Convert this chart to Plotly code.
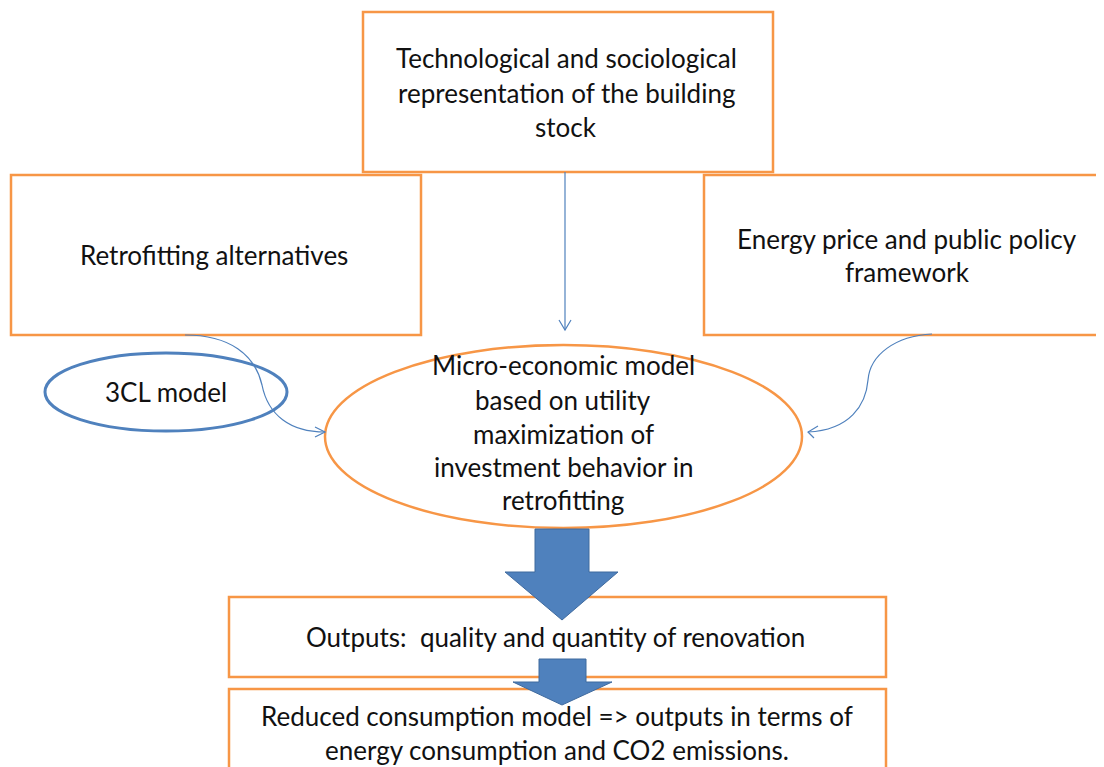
import plotly.graph_objects as go

# ---- diagram content ----
top_lines = ["Technological and sociological", "representation of the building", "stock"]
left_lines = ["Retrofitting alternatives"]
right_lines = ["Energy price and public policy", "framework"]
center_lines = ["Micro-economic model", "based on utility", "maximization of",
                "investment behavior in", "retrofitting"]
small_ellipse_lines = ["3CL model"]
outputs_lines = ["Outputs:  quality and quantity of renovation"]
bottom_lines = ["Reduced consumption model => outputs in terms of",
                "energy consumption and CO2 emissions."]

W, H = 1104, 767
OFF = 8  # page body margin
ORANGE = "#F79646"
BLUE = "#4F81BD"
DBLUE = "#3F6A9E"
FONT = "Lato"
FS = 26

fig = go.Figure()
fig.add_trace(go.Scatter(x=[OFF, W], y=[OFF, H], mode="markers",
                         marker=dict(opacity=0), hoverinfo="skip", showlegend=False))

shapes = []
def rect(x0, y0, x1, y1):
    shapes.append(dict(type="rect", x0=x0, y0=y0, x1=x1, y1=y1,
                       line=dict(color=ORANGE, width=2.5), fillcolor="rgba(0,0,0,0)",
                       xref="x", yref="y", layer="above"))
def ell(x0, y0, x1, y1, color, w):
    shapes.append(dict(type="circle", x0=x0, y0=y0, x1=x1, y1=y1,
                       line=dict(color=color, width=w), fillcolor="rgba(0,0,0,0)",
                       xref="x", yref="y", layer="above"))
def path(d, color, w, fill="rgba(0,0,0,0)", lc=None):
    shapes.append(dict(type="path", path=d, line=dict(color=lc or color, width=w),
                       fillcolor=fill, xref="x", yref="y", layer="above"))

# boxes
rect(363, 12, 773, 172)
rect(11, 175, 421, 335)
rect(704, 175, 1112, 335)
rect(229, 597, 886, 677)
rect(229, 689, 886, 790)
# ellipses
ell(325, 345, 802, 528, ORANGE, 2.5)
ell(45, 353, 287, 431, BLUE, 3)

# thin connectors
path("M565,172 L565,330", BLUE, 1.2)
path("M559,320 L565,330 L571,320", BLUE, 1.2)
path("M185,335 C230,335 255,355 262,385 C268,415 290,432 325,432", BLUE, 1.2)
path("M315,427 L325,432 L315,437", BLUE, 1.2)
path("M932,334 C895,336 870,355 868,380 C866,405 850,430 808,432", BLUE, 1.2)
path("M818,426 L808,432 L814,438", BLUE, 1.2)

# block arrows
path("M535,529 L589,529 L589,572 L618,572 L562,620 L505,572 L535,572 Z", BLUE, 1, fill=BLUE, lc=DBLUE)
path("M539,659 L586,659 L586,682 L612,682 L562,705 L513,682 L539,682 Z", BLUE, 1, fill=BLUE, lc=DBLUE)

annotations = []
def text_block(lines, cx, ys):
    for t, y in zip(lines, ys):
        annotations.append(dict(x=cx, y=y, text=t, showarrow=False, xref="x", yref="y",
                                xanchor="center", yanchor="middle",
                                font=dict(family=FONT, size=FS, color="#111111")))

text_block(top_lines, 566, [58, 93, 127])
text_block(left_lines, 214, [255])
text_block(right_lines, 907, [239, 272])
text_block(center_lines, 563, [365, 400, 434, 467, 500])
text_block(small_ellipse_lines, 166, [392])
text_block(outputs_lines, 555, [637])
text_block(bottom_lines, 557, [716, 750])

fig.update_layout(
    width=W - OFF, height=H - OFF, margin=dict(l=0, r=0, t=0, b=0),
    paper_bgcolor="white", plot_bgcolor="white",
    xaxis=dict(range=[OFF, W], visible=False, fixedrange=True),
    yaxis=dict(range=[H, OFF], visible=False, fixedrange=True),
    shapes=shapes, annotations=annotations, showlegend=False,
)
fig.write_html("out.html")
